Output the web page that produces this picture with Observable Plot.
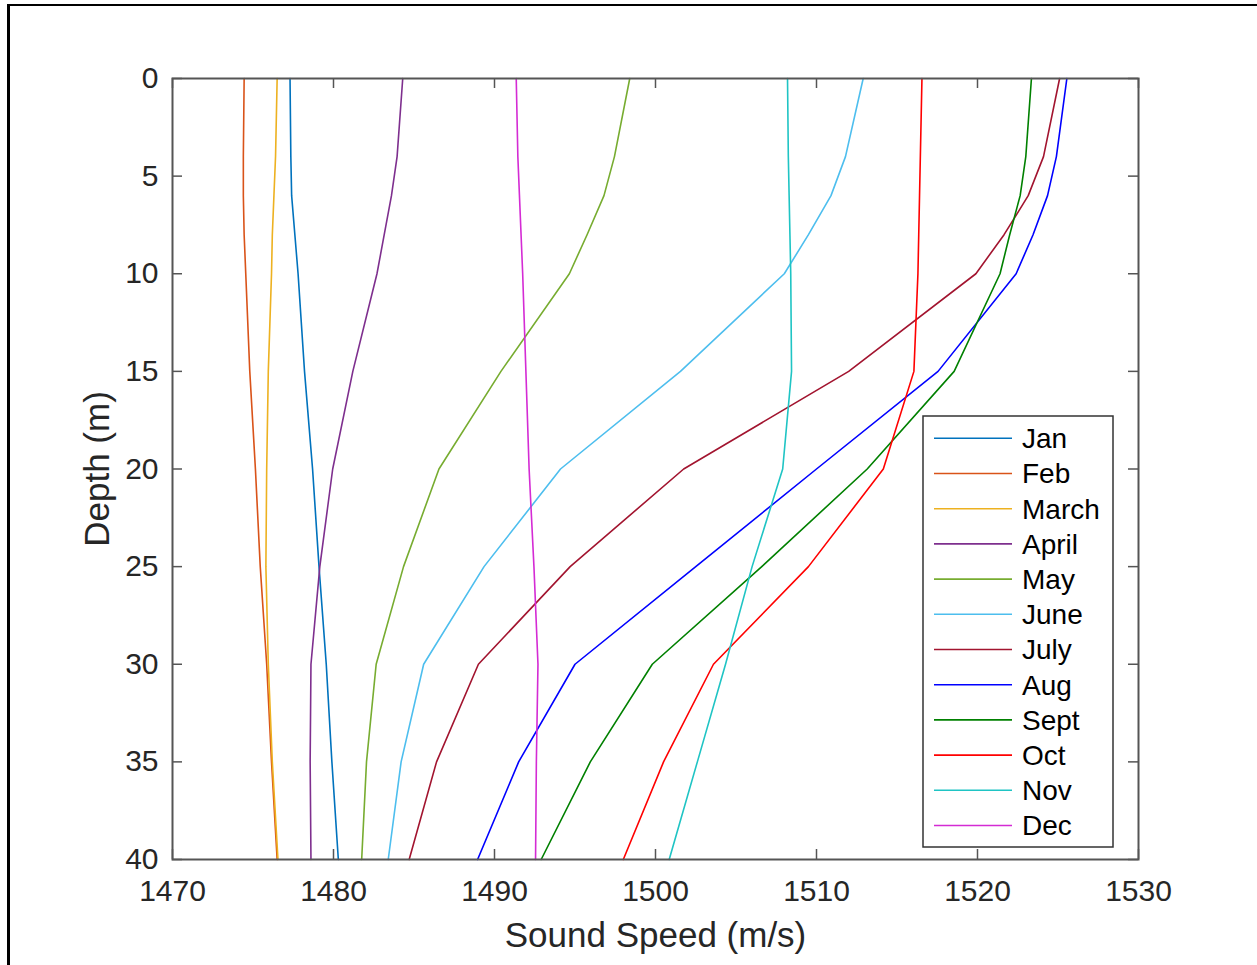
<!DOCTYPE html>
<html><head><meta charset="utf-8">
<script src="https://cdn.jsdelivr.net/npm/d3@7"></script>
<script src="https://cdn.jsdelivr.net/npm/@observablehq/plot@0.6"></script>
<style>
html,body{margin:0;padding:0;background:#fff;overflow:hidden;}
#wrap{position:relative;width:1257px;height:965px;}
#border{position:absolute;left:7px;top:4px;width:1400px;height:1200px;border-left:3px solid #000;border-top:2.5px solid #000;pointer-events:none;}
#legend{position:absolute;left:922px;top:415px;}
</style></head><body>
<div id="wrap"><div id="chart"></div><svg id="legend" width="193" height="434"></svg><div id="border"></div></div>
<script>
// Depth levels (m)
const depths = [0, 4, 6, 8, 10, 15, 20, 25, 30, 35, 40];
// Sound speed (m/s) per month at each depth
const jan = [1477.3, 1477.35, 1477.4, 1477.6, 1477.8, 1478.2, 1478.7, 1479.1, 1479.55, 1479.9, 1480.3];
const feb = [1474.45, 1474.4, 1474.4, 1474.45, 1474.55, 1474.8, 1475.15, 1475.45, 1475.85, 1476.15, 1476.5];
const mar = [1476.5, 1476.4, 1476.3, 1476.2, 1476.15, 1475.95, 1475.85, 1475.8, 1475.95, 1476.2, 1476.55];
const apr = [1484.3, 1483.95, 1483.6, 1483.15, 1482.7, 1481.2, 1479.95, 1479.15, 1478.6, 1478.55, 1478.6];
const may = [1498.4, 1497.45, 1496.8, 1495.75, 1494.65, 1490.4, 1486.55, 1484.35, 1482.65, 1482.05, 1481.75];
const jun = [1512.9, 1511.8, 1510.9, 1509.5, 1508.0, 1501.55, 1494.1, 1489.35, 1485.6, 1484.2, 1483.4];
const jul = [1525.1, 1524.1, 1523.15, 1521.65, 1519.9, 1512.0, 1501.75, 1494.7, 1489.0, 1486.4, 1484.7];
const aug = [1525.55, 1524.9, 1524.35, 1523.45, 1522.4, 1517.55, 1510.0, 1502.5, 1495.0, 1491.5, 1488.95];
const sep = [1523.35, 1523.0, 1522.65, 1522.0, 1521.4, 1518.55, 1513.15, 1506.6, 1499.8, 1495.95, 1492.9];
const oct = [1516.55, 1516.45, 1516.4, 1516.35, 1516.3, 1516.05, 1514.15, 1509.5, 1503.6, 1500.5, 1498.0];
const nov = [1508.2, 1508.25, 1508.3, 1508.35, 1508.4, 1508.45, 1507.9, 1506.0, 1504.35, 1502.6, 1500.85];
const dec = [1491.35, 1491.45, 1491.55, 1491.65, 1491.75, 1491.95, 1492.15, 1492.45, 1492.7, 1492.6, 1492.55];

const months = ["Jan", "Feb", "March", "April", "May", "June", "July", "Aug", "Sept", "Oct", "Nov", "Dec"];
const series = [jan, feb, mar, apr, may, jun, jul, aug, sep, oct, nov, dec];
const colors = ["#0072BD", "#D95319", "#EDB120", "#7E2F8E", "#77AC30", "#4DBEEE", "#A2142F",
                "#0000FF", "#008000", "#FF0000", "#1FC4C4", "#D42BD4"];
const xTicks = [1470, 1480, 1490, 1500, 1510, 1520, 1530];
const yTicks = [0, 5, 10, 15, 20, 25, 30, 35, 40];
const xLabel = "Sound Speed (m/s)";
const yLabel = "Depth (m)";

const rows = months.flatMap((m, i) => series[i].map((v, j) => ({month: m, speed: v, depth: depths[j]})));

const W = 1257, H = 965;
const mL = 172, mR = 119, mT = 78, mB = 106;
const plotW = W - mL - mR, plotH = H - mT - mB;
const tickLen = 10;
const axisColor = "#555";
const font = "'Liberation Sans', Arial, Helvetica, sans-serif";

const chart = Plot.plot({
  width: W, height: H,
  marginLeft: mL, marginRight: mR, marginTop: mT, marginBottom: mB,
  style: {fontFamily: font, background: "white", color: "#262626"},
  x: {domain: [1470, 1530], ticks: xTicks},
  y: {domain: [0, 40], reverse: true, ticks: yTicks},
  color: {type: "ordinal", domain: months, range: colors},
  marks: [
    Plot.line(rows, {x: "speed", y: "depth", z: "month", stroke: "month", strokeWidth: 1.6}),
    Plot.axisX(xTicks, {anchor: "bottom", tickSize: 0, tickPadding: 20, fontSize: 30, label: null, fill: "#262626", tickFormat: d => String(d)}),
    Plot.axisY(yTicks, {anchor: "left", tickSize: 0, tickPadding: 14, fontSize: 30, label: null, fill: "#262626", tickFormat: d => String(d)}),
    Plot.tickX(xTicks, {x: d => d, stroke: axisColor, strokeWidth: 1.5, insetTop: plotH - tickLen}),
    Plot.tickX(xTicks, {x: d => d, stroke: axisColor, strokeWidth: 1.5, insetBottom: plotH - tickLen}),
    Plot.tickY(yTicks, {y: d => d, stroke: axisColor, strokeWidth: 1.5, insetRight: plotW - tickLen}),
    Plot.tickY(yTicks, {y: d => d, stroke: axisColor, strokeWidth: 1.5, insetLeft: plotW - tickLen}),
    Plot.frame({stroke: axisColor, strokeWidth: 2}),
    Plot.text([xLabel], {text: d => d, frameAnchor: "bottom", dy: 76, lineAnchor: "middle", textAnchor: "middle", fontSize: 35, fill: "#262626"}),
    Plot.text([yLabel], {text: d => d, frameAnchor: "left", dx: -75, rotate: -90, lineAnchor: "middle", textAnchor: "middle", fontSize: 35, fill: "#262626"})
  ]
});
document.getElementById("chart").appendChild(chart);

// Legend (inside the axes, lower right)
const lg = d3.select("#legend");
lg.append("rect").attr("x", 1).attr("y", 1).attr("width", 190).attr("height", 431)
  .attr("fill", "white").attr("stroke", "#333").attr("stroke-width", 1.5);
months.forEach((m, i) => {
  const y = 23.3 + 35.2 * i;
  lg.append("line").attr("x1", 12).attr("x2", 90).attr("y1", y).attr("y2", y)
    .attr("stroke", colors[i]).attr("stroke-width", 1.6);
  lg.append("text").attr("x", 100).attr("y", y).attr("dy", "0.35em")
    .attr("font-family", font).attr("font-size", 28).attr("fill", "#000").text(m);
});
</script>
</body></html>
